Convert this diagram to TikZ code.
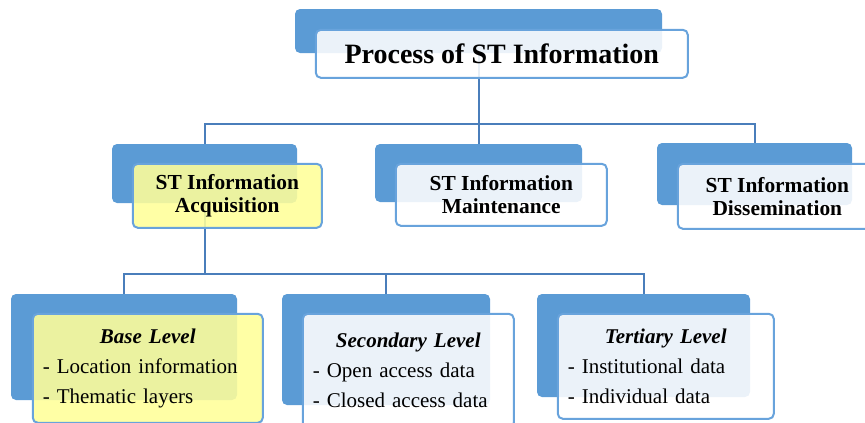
\documentclass[tikz,border=0pt]{standalone}
\usepackage{fontspec}
\setmainfont{Liberation Serif}
\usetikzlibrary{positioning}
\definecolor{backblue}{RGB}{91,155,213}
\definecolor{edgeblue}{RGB}{104,163,220}
\definecolor{linkblue}{RGB}{74,126,187}
\definecolor{paleyellow}{RGB}{255,255,153}

\begin{document}
\begin{tikzpicture}[x=1pt,y=-1pt]
\tikzstyle{back} = [rectangle, rounded corners=5pt, fill=backblue, inner sep=0pt]
\tikzstyle{front} = [rectangle, rounded corners=5pt, draw=edgeblue, line width=2pt, fill=white, fill opacity=0.88, text opacity=1, inner sep=0pt, anchor=north west, align=center]
\tikzstyle{title} = [font=\bfseries\fontsize{28}{32}\selectfont]
\tikzstyle{head} = [font=\bfseries\fontsize{21.4}{23}\selectfont]
\tikzstyle{level} = [font=\fontsize{21}{30}\selectfont, align=left, inner xsep=10pt]
\tikzstyle{link} = [draw=linkblue, line width=2pt]

\useasboundingbox (0,0) rectangle (865,423);

\node (topB) [back, minimum width=367pt, minimum height=44pt] at (478.5,31) {};
\node (acqB) [back, minimum width=185pt, minimum height=59pt] at (204.5,173.5) {};
\node (mainB) [back, minimum width=207pt, minimum height=58pt] at (478.5,173) {};
\node (dissB) [back, minimum width=195pt, minimum height=62pt] at (754.5,174) {};
\node (baseB) [back, minimum width=226pt, minimum height=106pt] at (124,347) {};
\node (secB) [back, minimum width=208pt, minimum height=111pt] at (386,349.5) {};
\node (terB) [back, minimum width=213pt, minimum height=103pt] at (643.5,345.5) {};

\draw [link] (topB.south) -- ++(0,71) -| (acqB.north);
\draw [link] (topB.south) -- ++(0,71) -| (mainB.north);
\draw [link] (topB.south) -- ++(0,71) -| (dissB.north);
\draw [link] (acqB.south) -- ++(0,71) -| (baseB.north);
\draw [link] (acqB.south) -- ++(0,71) -| (secB.north);
\draw [link] (acqB.south) -- ++(0,71) -| (terB.north);

\node (top) [front, title, minimum width=372pt, minimum height=48pt] at ([shift={(20,20)}]topB.north west) {Process of ST Information};
\node (acq) [front, head, fill=paleyellow, minimum width=189pt, minimum height=64pt] at ([shift={(20,19)}]acqB.north west) {ST Information\\Acquisition};
\node (main) [front, head, minimum width=211pt, minimum height=62pt] at ([shift={(20,19)}]mainB.north west) {ST Information\\Maintenance};
\node (diss) [front, head, minimum width=199pt, minimum height=65pt] at ([shift={(20,20)}]dissB.north west) {ST Information\\Dissemination};

\node (base) [front, level, fill=paleyellow, text width=210pt, minimum height=109pt] at ([shift={(21,19)}]baseB.north west) {\makebox[\hsize]{\bfseries\itshape Base Level}\\- Location information\\- Thematic layers};
\node (sec) [front, level, text width=191pt, minimum height=114pt] at ([shift={(20,19)}]secB.north west) {\makebox[\hsize]{\bfseries\itshape Secondary Level}\\- Open access data\\- Closed access data};
\node (ter) [front, level, text width=196pt, minimum height=105pt] at ([shift={(20,19)}]terB.north west) {\makebox[\hsize]{\bfseries\itshape Tertiary Level}\\- Institutional data\\- Individual data};
\end{tikzpicture}
\end{document}
